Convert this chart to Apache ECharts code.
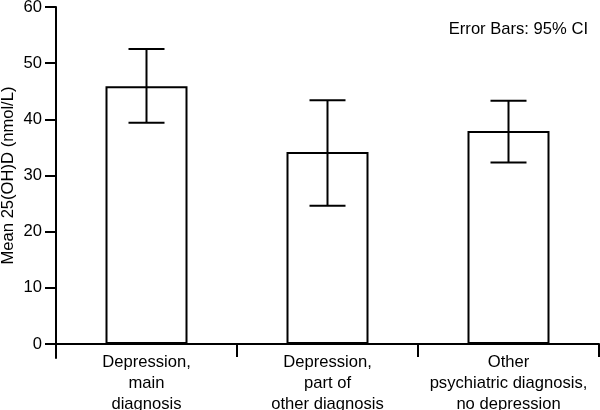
<!DOCTYPE html>
<html><head><meta charset="utf-8">
<script src="https://cdn.jsdelivr.net/npm/echarts@6/dist/echarts.min.js"></script>
<style>html,body{margin:0;padding:0;background:#fff}#c{width:600px;height:410px}</style>
</head><body><div id="c"></div>
<script>
const categories = ['Depression,\nmain\ndiagnosis', 'Depression,\npart of\nother diagnosis', 'Other\npsychiatric diagnosis,\nno depression'];
const means = [45.9, 34.2, 37.9];
const ciLow = [39.4, 24.6, 32.3];
const ciHigh = [52.5, 43.4, 43.3];
const yTicks = [0, 10, 20, 30, 40, 50, 60];

const chart = echarts.init(document.getElementById('c'), null, {renderer: 'canvas'});
const font = 'Liberation Sans, Arial, Helvetica, sans-serif';
const fs = 16.6;
chart.setOption({
  animation: false,
  backgroundColor: '#fff',
  grid: {left: 56, right: 1, top: 7, bottom: 52, containLabel: false, outerBoundsMode: 'none'},
  title: {
    text: 'Error Bars: 95% CI', right: 7, top: 16,
    textStyle: {fontFamily: font, fontSize: fs, fontWeight: 'normal', color: '#000'}
  },
  xAxis: {
    type: 'category', data: categories,
    axisLine: {onZero: true, lineStyle: {color: '#000', width: 2}},
    axisTick: {show: true, length: 13, alignWithLabel: false, lineStyle: {color: '#000', width: 2}},
    axisLabel: {color: '#000', fontFamily: font, fontSize: fs, lineHeight: 21, margin: -6, interval: 0}
  },
  yAxis: {
    type: 'value', min: -2.5, max: 60,
    name: 'Mean 25(OH)D (nmol/L)', nameLocation: 'middle', nameGap: 39, nameRotate: 90,
    nameMoveOverlap: false,
    nameTextStyle: {fontFamily: font, fontSize: fs, color: '#000', padding: [0, 0, 0, 14]},
    splitLine: {show: false},
    axisLine: {show: true, lineStyle: {color: '#000', width: 2}},
    axisTick: {show: true, length: 11, customValues: yTicks, lineStyle: {color: '#000', width: 2}},
    axisLabel: {color: '#000', fontFamily: font, fontSize: fs, margin: 14, customValues: yTicks}
  },
  series: [
    {
      type: 'bar', data: means, barWidth: 82,
      itemStyle: {color: '#fff', borderColor: '#000', borderWidth: 2}
    },
    {
      type: 'custom',
      data: ciLow.map((l, i) => [i, l, ciHigh[i]]),
      renderItem: function (params, api) {
        const x = api.value(0);
        const lo = api.coord([x, api.value(1)]);
        const hi = api.coord([x, api.value(2)]);
        const hw = 18;
        const st = {stroke: '#000', lineWidth: 2};
        return {type: 'group', children: [
          {type: 'line', shape: {x1: lo[0], y1: lo[1], x2: hi[0], y2: hi[1]}, style: st},
          {type: 'line', shape: {x1: lo[0] - hw, y1: lo[1], x2: lo[0] + hw, y2: lo[1]}, style: st},
          {type: 'line', shape: {x1: hi[0] - hw, y1: hi[1], x2: hi[0] + hw, y2: hi[1]}, style: st}
        ]};
      },
      z: 5
    }
  ]
});
</script></body></html>
